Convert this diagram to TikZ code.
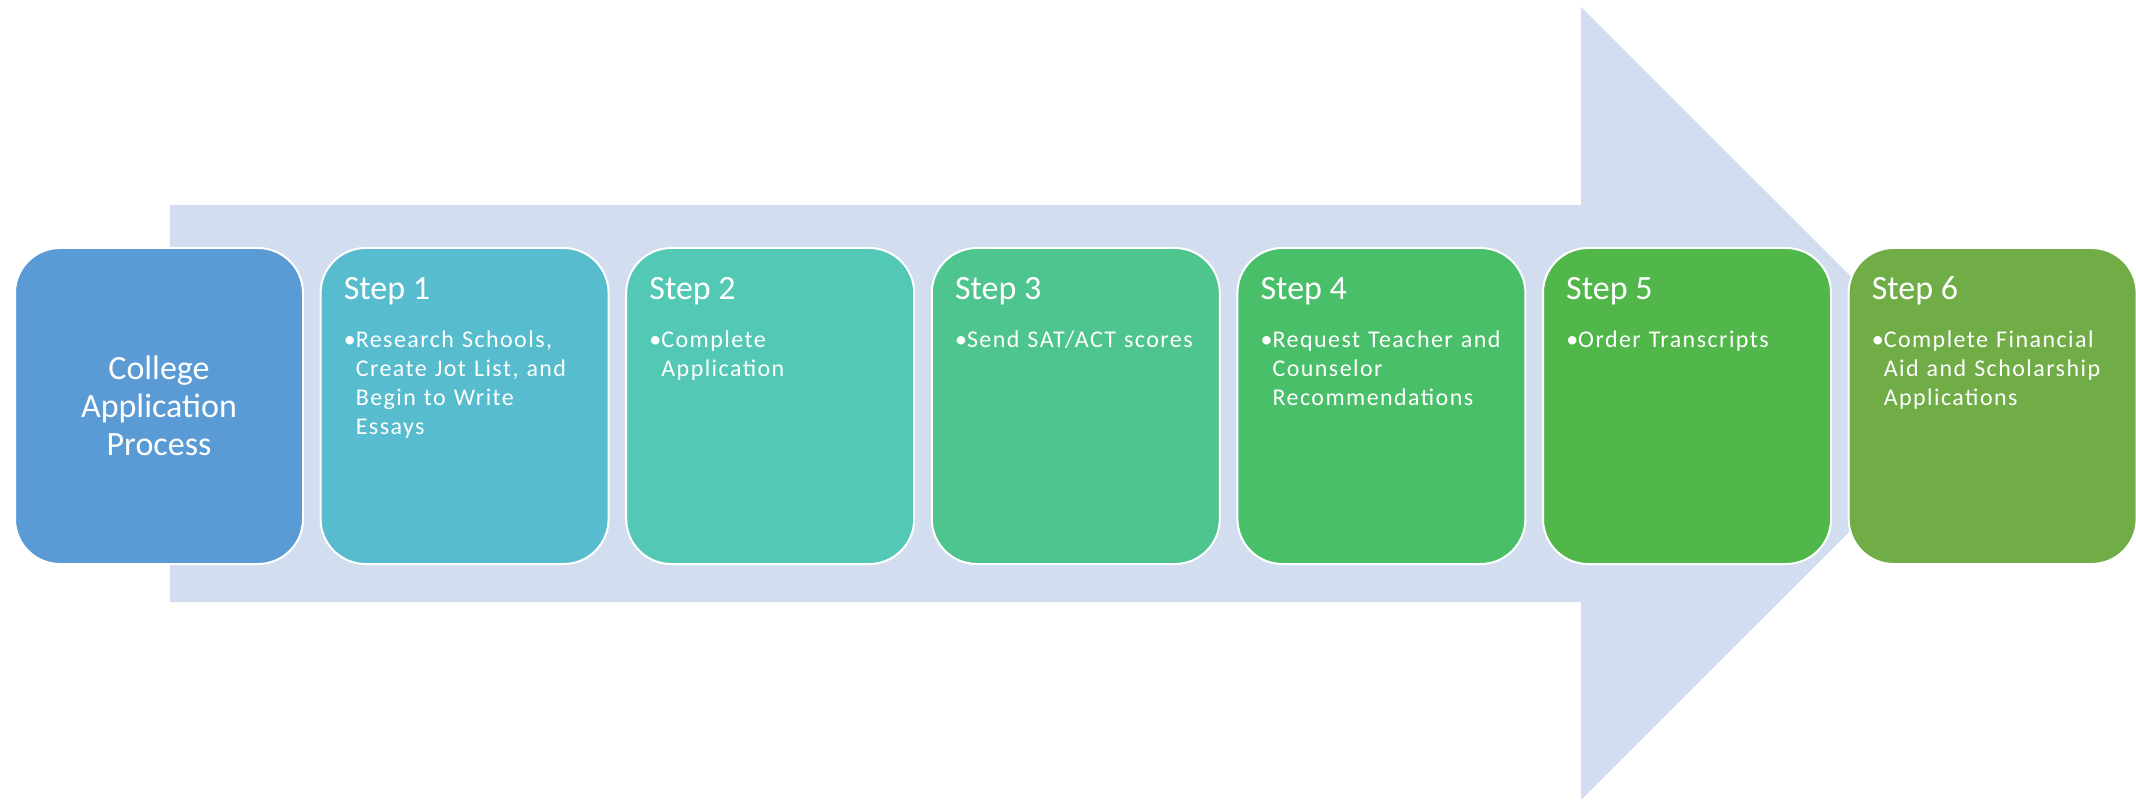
\documentclass[tikz,border=0pt]{standalone}
\usepackage{fontspec}
\setmainfont{Carlito}
\newfontfamily\bulletfont[LetterSpace=6]{Carlito}
\definecolor{arrowfill}{RGB}{210,222,239}
\definecolor{step0}{RGB}{91,155,213}
\definecolor{step1}{RGB}{87,188,206}
\definecolor{step2}{RGB}{83,201,181}
\definecolor{step3}{RGB}{78,196,142}
\definecolor{step4}{RGB}{74,191,106}
\definecolor{step5}{RGB}{81,183,74}
\definecolor{step6}{RGB}{112,173,71}
\begin{document}
\begin{tikzpicture}[x=1pt,y=-1pt,
  stepbox/.style={draw=white,line width=2pt,rounded corners=45pt,minimum width=288pt,minimum height=316pt,anchor=north west,inner sep=0pt},
  steptitle/.style={anchor=base west,inner sep=0pt,text=white,font=\fontsize{34}{40}\selectfont},
  steptext/.style={anchor=base west,inner sep=0pt,text=white,text width=270pt,align=left,font=\bulletfont\fontsize{24}{29}\selectfont}]
  \useasboundingbox (0,0) rectangle (2136,802);
  % big arrow behind the boxes
  \fill[arrowfill] (170,205) -- (1581,205) -- (1581,7) -- (1978,403.5) -- (1581,800) -- (1581,602) -- (170,602) -- cycle;
  \node[stepbox,fill=step0,align=center,text=white,font=\fontsize{34}{38}\selectfont] (start) at (14,247) {College\\Application\\Process};
  \foreach \i/\t in {1/{Research Schools,\\Create Jot List, and\\Begin to Write\\Essays},2/{Complete\\Application},3/{Send SAT/ACT scores},4/{Request Teacher and\\Counselor\\Recommendations},5/{Order Transcripts},6/{Complete Financial\\Aid and Scholarship\\Applications}}
  {
    \node[stepbox,fill=step\i] (box\i) at (14+305.6*\i,247) {};
    \node[steptitle] (title\i) at ([shift={(24,52)}]box\i.north west) {Step \i};
    \node[steptext] (text\i) at ([shift={(36,100)}]box\i.north west) {\llap{\textbullet}\t};
  }
\end{tikzpicture}
\end{document}
